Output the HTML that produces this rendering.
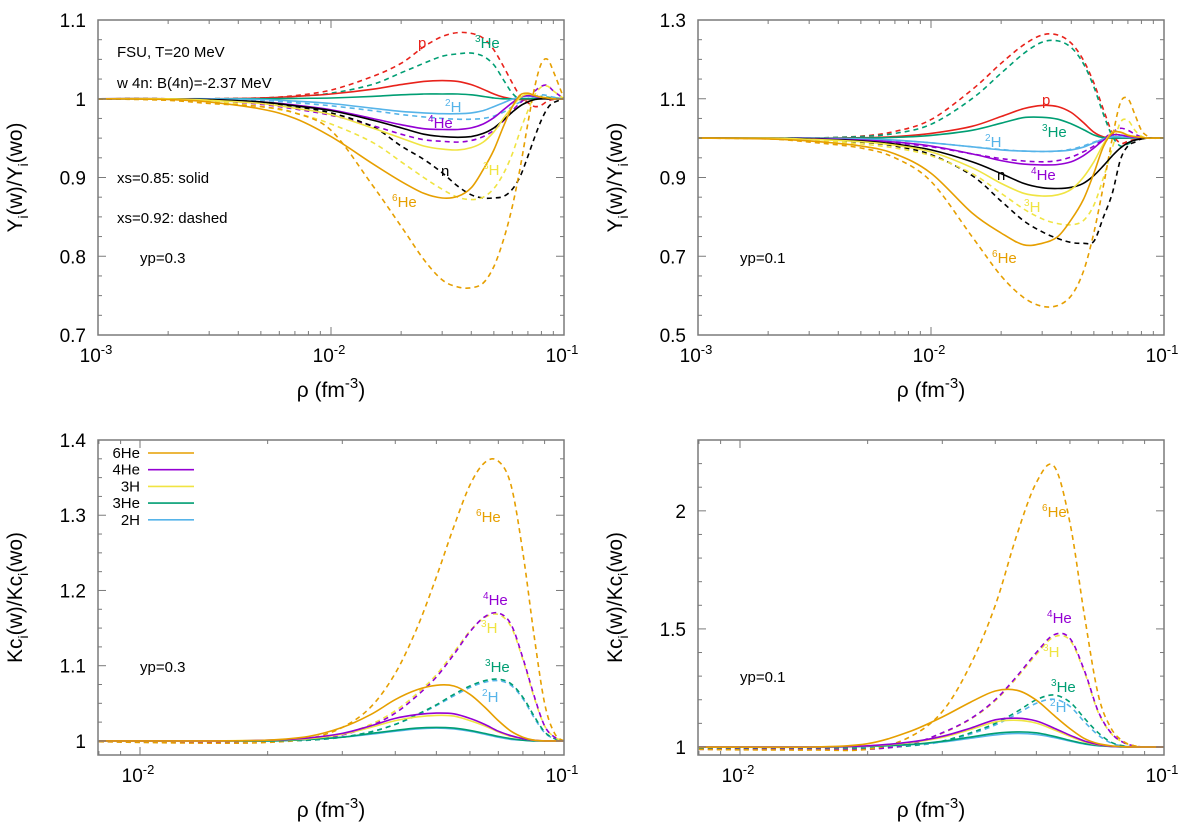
<!DOCTYPE html>
<html><head><meta charset="utf-8"><style>
body{margin:0;background:#fff;}
svg{display:block;font-family:"Liberation Sans",sans-serif;}
</style></head><body>
<svg id="fig" width="1200" height="833" viewBox="0 0 1200 833" xmlns="http://www.w3.org/2000/svg"></svg>
<script>
// ---------- DATA ----------
const rhoTop=[0.001,0.002,0.003,0.005,0.007,0.01,0.015,0.02,0.025,0.03,0.035,0.04,0.045,0.05,0.055,0.06,0.065,0.07,0.075,0.08,0.085,0.09,0.1];
// top-left (yp=0.3)
const tl_p_s  =[1,1,1,1.001,1.003,1.006,1.012,1.018,1.022,1.023,1.022,1.018,1.012,1.006,1.002,1.0,0.999,0.999,1,1,1,1,1];
const tl_p_d  =[1,1,1,1.001,1.004,1.011,1.028,1.045,1.066,1.079,1.084,1.083,1.077,1.062,1.041,1.02,1.003,0.995,0.99,0.992,0.997,0.999,1];
const tl_3He_s=[1,1,1,1,1.0005,1.001,1.003,1.005,1.006,1.006,1.006,1.005,1.003,1.001,1,1,1,1,1,1,1,1,1];
const tl_3He_d=[1,1,1,1.001,1.003,1.007,1.018,1.033,1.045,1.054,1.057,1.058,1.054,1.043,1.024,1.007,0.999,0.999,1.001,1.003,1.002,1.001,1];
const tl_2H_s =[1,1,1,0.999,0.997,0.994,0.988,0.984,0.982,0.981,0.981,0.982,0.985,0.99,0.995,0.9995,1.002,1.003,1.002,1.001,1,1,1];
const tl_2H_d =[1,1,0.999,0.998,0.995,0.991,0.985,0.98,0.977,0.975,0.974,0.974,0.975,0.978,0.983,0.99,0.996,1.0,1.003,1.005,1.004,1.002,1];
const tl_4He_s=[1,1,0.999,0.996,0.992,0.986,0.975,0.967,0.962,0.961,0.961,0.963,0.968,0.976,0.986,0.995,1.002,1.004,1.003,1.001,1,1,1];
const tl_4He_d=[1,1,0.998,0.993,0.987,0.979,0.966,0.955,0.948,0.946,0.945,0.947,0.952,0.96,0.972,0.985,0.995,1.003,1.01,1.016,1.017,1.01,1];
const tl_n_s  =[1,1,0.999,0.996,0.991,0.985,0.973,0.963,0.955,0.952,0.951,0.952,0.956,0.963,0.973,0.983,0.991,0.996,0.999,1,1,1,1];
const tl_n_d  =[1,1,0.999,0.995,0.99,0.982,0.965,0.94,0.923,0.906,0.889,0.878,0.874,0.874,0.876,0.885,0.902,0.927,0.952,0.973,0.988,0.995,1];
const tl_3H_s =[1,1,0.998,0.994,0.988,0.98,0.963,0.95,0.94,0.936,0.935,0.938,0.945,0.958,0.975,0.99,1.002,1.006,1.004,1.002,1.001,1,1];
const tl_3H_d =[1,1,0.997,0.99,0.982,0.968,0.945,0.92,0.9,0.885,0.875,0.872,0.875,0.886,0.905,0.93,0.96,0.985,1.005,1.015,1.016,1.01,1];
const tl_6He_s=[1,0.999,0.996,0.987,0.975,0.952,0.918,0.895,0.88,0.874,0.876,0.887,0.91,0.935,0.965,0.99,1.005,1.007,1.004,1.002,1.001,1,1];
const tl_6He_d=[1,0.998,0.994,0.99,0.982,0.96,0.891,0.838,0.796,0.77,0.761,0.76,0.766,0.787,0.821,0.863,0.914,0.969,1.016,1.045,1.05,1.035,1];
// top-right (yp=0.1)
const tr_p_s  =[1,1,1,1.001,1.004,1.012,1.03,1.055,1.075,1.083,1.08,1.065,1.04,1.015,1.003,1.0,1,1,1,1,1,1,1];
const tr_p_d  =[1,1,1,1.005,1.017,1.047,1.123,1.19,1.237,1.262,1.262,1.241,1.199,1.14,1.072,1.013,0.987,0.992,0.997,1,1,1,1];
const tr_3He_s=[1,1,1,1,1.002,1.007,1.02,1.038,1.052,1.053,1.048,1.036,1.022,1.008,1.001,1,1,1,1,1,1,1,1];
const tr_3He_d=[1,1,1,1.004,1.012,1.035,1.1,1.165,1.215,1.244,1.247,1.23,1.19,1.13,1.06,1.005,0.98,0.985,0.995,1,1,1,1];
const tr_2H_s =[1,1,1,0.998,0.995,0.988,0.978,0.97,0.967,0.966,0.967,0.97,0.977,0.988,0.998,1.003,1.003,1.002,1.001,1,1,1,1];
const tr_2H_d =[1,1,1,0.998,0.994,0.988,0.978,0.971,0.967,0.966,0.967,0.972,0.98,0.99,0.998,1.004,1.007,1.006,1.003,1.001,1,1,1];
const tr_4He_s=[1,1,0.999,0.995,0.99,0.98,0.96,0.943,0.934,0.932,0.933,0.94,0.955,0.975,0.995,1.008,1.008,1.004,1.002,1.001,1,1,1];
const tr_4He_d=[1,1,0.999,0.994,0.988,0.978,0.96,0.948,0.942,0.94,0.943,0.952,0.965,0.98,0.998,1.015,1.025,1.02,1.01,1.003,1,1,1];
const tr_n_s  =[1,1,0.998,0.993,0.985,0.97,0.94,0.91,0.885,0.874,0.872,0.875,0.885,0.905,0.93,0.955,0.975,0.988,0.995,0.998,1,1,1];
const tr_n_d  =[1,1,0.998,0.99,0.98,0.958,0.905,0.84,0.79,0.762,0.745,0.735,0.733,0.738,0.8,0.86,0.945,0.98,0.99,0.998,1,1,1];
const tr_3H_s =[1,1,0.997,0.991,0.982,0.965,0.925,0.885,0.86,0.853,0.856,0.87,0.9,0.94,0.985,1.015,1.015,1.008,1.004,1.002,1,1,1];
const tr_3H_d =[1,1,0.996,0.985,0.975,0.955,0.91,0.86,0.82,0.795,0.783,0.78,0.79,0.83,0.9,0.975,1.04,1.045,1.02,1.005,1,1,1];
const tr_6He_s=[1,0.998,0.993,0.98,0.96,0.911,0.81,0.759,0.729,0.733,0.75,0.793,0.843,0.911,0.979,1.013,1.015,1.007,1.004,1.002,1,1,1];
const tr_6He_d=[1,0.998,0.99,0.975,0.95,0.89,0.75,0.65,0.595,0.573,0.575,0.6,0.66,0.76,0.88,1.0,1.09,1.1,1.06,1.02,1.005,1,1];
// bottom panels
const rhoBot=[0.008,0.01,0.015,0.02,0.025,0.03,0.035,0.04,0.045,0.05,0.055,0.06,0.065,0.07,0.075,0.08,0.085,0.09,0.095,0.1];
const bl_6He_s=[1,1,1,1.001,1.006,1.018,1.035,1.055,1.068,1.074,1.073,1.062,1.045,1.027,1.013,1.005,1.001,1,1,1];
const bl_6He_d=[0.999,0.998,0.997,0.998,1.003,1.018,1.045,1.09,1.15,1.218,1.285,1.34,1.37,1.372,1.34,1.25,1.14,1.05,1.01,1];
const bl_4He_s=[1,1,1,1.001,1.004,1.01,1.02,1.03,1.035,1.037,1.036,1.03,1.022,1.013,1.007,1.003,1.001,1,1,1];
const bl_4He_d=[0.999,0.999,0.999,1,1.002,1.008,1.02,1.037,1.06,1.085,1.115,1.145,1.165,1.17,1.155,1.11,1.06,1.02,1.005,1];
const bl_3H_s =[1,1,1,1.001,1.003,1.009,1.018,1.027,1.032,1.034,1.033,1.027,1.02,1.012,1.006,1.003,1.001,1,1,1];
const bl_3H_d =[0.999,0.999,0.999,1,1.002,1.009,1.022,1.04,1.063,1.088,1.118,1.146,1.164,1.168,1.152,1.108,1.058,1.02,1.005,1];
const bl_3He_s=[1,1,1,1,1.002,1.005,1.01,1.014,1.017,1.018,1.017,1.014,1.01,1.006,1.003,1.001,1,1,1,1];
const bl_3He_d=[0.999,0.999,0.999,1,1.001,1.005,1.012,1.022,1.035,1.048,1.062,1.073,1.08,1.082,1.076,1.058,1.033,1.012,1.003,1];
const bl_2H_s =[1,1,1,1,1.002,1.005,1.009,1.013,1.016,1.017,1.016,1.013,1.009,1.005,1.002,1.001,1,1,1,1];
const bl_2H_d =[0.999,0.999,0.999,1,1.001,1.005,1.012,1.022,1.034,1.047,1.06,1.071,1.078,1.08,1.074,1.056,1.031,1.011,1.003,1];
const br_6He_s=[0.999,0.999,1,1.014,1.064,1.127,1.19,1.237,1.24,1.198,1.134,1.078,1.035,1.014,1.005,1.001,1,1,1,1];
const br_6He_d=[0.99,0.988,0.987,0.99,1.04,1.15,1.35,1.6,1.9,2.12,2.19,1.95,1.55,1.22,1.08,1.025,1.005,1,1,1];
const br_4He_s=[1,1,1,1.005,1.02,1.045,1.08,1.115,1.122,1.11,1.08,1.05,1.025,1.01,1.003,1.001,1,1,1,1];
const br_4He_d=[0.99,0.99,0.99,0.99,1.01,1.06,1.12,1.2,1.3,1.4,1.475,1.46,1.32,1.15,1.06,1.02,1.005,1,1,1];
const br_3H_s =[1,1,1,1.004,1.018,1.041,1.074,1.106,1.113,1.101,1.073,1.045,1.022,1.009,1.003,1.001,1,1,1,1];
const br_3H_d =[0.99,0.99,0.99,0.99,1.01,1.058,1.118,1.196,1.294,1.392,1.466,1.452,1.314,1.146,1.058,1.02,1.005,1,1,1];
const br_3He_s=[1,1,1,1.003,1.01,1.024,1.042,1.058,1.064,1.06,1.045,1.028,1.014,1.006,1.002,1,1,1,1,1];
const br_3He_d=[0.995,0.995,0.995,0.995,1.005,1.025,1.06,1.1,1.15,1.2,1.22,1.19,1.12,1.06,1.02,1.005,1,1,1,1];
const br_2H_s =[1,1,1,1.003,1.009,1.021,1.037,1.051,1.057,1.053,1.04,1.025,1.012,1.005,1.002,1,1,1,1,1];
const br_2H_d =[0.995,0.995,0.995,0.995,1.004,1.022,1.055,1.093,1.14,1.185,1.202,1.172,1.105,1.05,1.017,1.004,1,1,1,1];
const yTicksTL=[0.7,0.8,0.9,1,1.1];
const yTickLabelsTL=["0.7","0.8","0.9","1","1.1"];
const yTicksTR=[0.5,0.7,0.9,1.1,1.3];
const yTickLabelsTR=["0.5","0.7","0.9","1.1","1.3"];
const yTicksBL=[1,1.1,1.2,1.3,1.4];
const yTickLabelsBL=["1","1.1","1.2","1.3","1.4"];
const yTicksBR=[1,1.5,2];
const yTickLabelsBR=["1","1.5","2"];
const xTickExpTop=[-3,-2,-1];
const xTickExpBot=[-2,-1];

// ---------- DRAWING ----------
const NS="http://www.w3.org/2000/svg";
const svg=document.getElementById('fig');
const C={p:"#e8221b",n:"#000000","3He":"#009e73","2H":"#56b4e9","4He":"#9400d3","3H":"#f0e442","6He":"#e69f00"};
function mk(tag,attrs,parent){const e=document.createElementNS(NS,tag);for(const k in attrs)e.setAttribute(k,attrs[k]);(parent||svg).appendChild(e);return e;}

function panel(cfg){
  const g=mk('g',{});
  
  
  const L=cfg.x0,R=cfg.x1,T=cfg.y0,B=cfg.y1;
  const lx0=Math.log10(cfg.xmin),lx1=Math.log10(cfg.xmax);
  const sx=v=>L+(Math.log10(v)-lx0)/(lx1-lx0)*(R-L);
  const sy=v=>B-(v-cfg.ymin)/(cfg.ymax-cfg.ymin)*(B-T);
  // clip
  const cp=mk('clipPath',{id:'clip-'+cfg.name},g);mk('rect',{x:L,y:T,width:R-L,height:B-T},cp);
  // series
  const sg=mk('g',{'clip-path':'url(#clip-'+cfg.name+')'},g);
  cfg.series.forEach(s=>{
    const pts=cfg.rho.map((r,i)=>[sx(r),sy(s.v[i])]);
    let d='M'+pts[0][0].toFixed(1)+','+pts[0][1].toFixed(1);
    for(let i=0;i<pts.length-1;i++){
      const p0=pts[Math.max(0,i-1)],p1=pts[i],p2=pts[i+1],p3=pts[Math.min(pts.length-1,i+2)];
      const c1=[p1[0]+(p2[0]-p0[0])/6,p1[1]+(p2[1]-p0[1])/6],c2=[p2[0]-(p3[0]-p1[0])/6,p2[1]-(p3[1]-p1[1])/6];
      d+=' C'+c1[0].toFixed(1)+','+c1[1].toFixed(1)+' '+c2[0].toFixed(1)+','+c2[1].toFixed(1)+' '+p2[0].toFixed(1)+','+p2[1].toFixed(1);
    }
    const path=mk('path',{d:d,fill:'none',stroke:C[s.sp],'stroke-width':1.6},sg);
    if(s.dash)path.setAttribute('stroke-dasharray','5,4');
    
    
  });
  // frame
  const fr=mk('rect',{x:L,y:T,width:R-L,height:B-T,fill:'none',stroke:'#7a7a7a','stroke-width':1.5},g);
  
  
  // x ticks
  for(let e=Math.floor(lx0);e<=Math.ceil(lx1);e++){
    for(let m=1;m<10;m++){
      const v=m*Math.pow(10,e);if(v<cfg.xmin*0.999||v>cfg.xmax*1.001)continue;
      const x=sx(v),len=m===1?8:4;
      mk('line',{x1:x,y1:B,x2:x,y2:B-len,stroke:'#7a7a7a','stroke-width':1},g);
      mk('line',{x1:x,y1:T,x2:x,y2:T+len,stroke:'#7a7a7a','stroke-width':1},g);
    }
  }
  cfg.xExp.forEach(e=>{
    const t=mk('text',{x:sx(Math.pow(10,e))-2,y:B+27,'text-anchor':'middle','font-size':19},g);
    
    
    t.innerHTML='10<tspan dy="-8" font-size="13">'+e+'</tspan>';
  });
  // y ticks
  const minor=cfg.yminor;
  for(let v=Math.ceil(cfg.ymin/minor-1e-6)*minor;v<=cfg.ymax+1e-9;v+=minor){
    const y=sy(v);const major=cfg.yt.some(t=>Math.abs(t-v)<1e-6);const len=major?8:4;
    mk('line',{x1:L,y1:y,x2:L+len,y2:y,stroke:'#7a7a7a','stroke-width':1},g);
    mk('line',{x1:R,y1:y,x2:R-len,y2:y,stroke:'#7a7a7a','stroke-width':1},g);
  }
  cfg.yt.forEach((v,i)=>{
    const t=mk('text',{x:L-12,y:sy(v)+7,'text-anchor':'end','font-size':19},g);
    
    
    t.textContent=cfg.ytl[i];
  });
  // axis titles
  const xt=mk('text',{x:(L+R)/2,y:B+62,'text-anchor':'middle','font-size':21},g);
  
  
  xt.innerHTML='ρ (fm<tspan dy="-9" font-size="15">-3</tspan><tspan dy="9">)</tspan>';
  const yt=mk('text',{x:0,y:0,'text-anchor':'middle','font-size':21,transform:'translate('+(L-76)+','+((T+B)/2)+') rotate(-90)'},g);
  
  
  yt.innerHTML=cfg.ytitle;
  // labels
  cfg.labels.forEach(lb=>{
    const t=mk('text',{x:lb[1],y:lb[2],'font-size':15,fill:C[lb[0]]},g);
    
    
    const m=lb[0].match(/^(\d)(.*)$/);
    if(m)t.innerHTML='<tspan dy="-6" font-size="10">'+m[1]+'</tspan><tspan dy="6">'+m[2]+'</tspan>';else t.textContent=lb[0];
  });
  (cfg.notes||[]).forEach(nt=>{
    const t=mk('text',{x:nt[1],y:nt[2],'font-size':15},g);
    
    
    t.textContent=nt[0];
  });
  return {g,sx,sy};
}
const YT1='Y<tspan dy="6" font-size="14">i</tspan><tspan dy="-6">(w)/Y</tspan><tspan dy="6" font-size="14">i</tspan><tspan dy="-6">(wo)</tspan>';
const YT2='Kc<tspan dy="6" font-size="14">i</tspan><tspan dy="-6">(w)/Kc</tspan><tspan dy="6" font-size="14">i</tspan><tspan dy="-6">(wo)</tspan>';
function ser(prefix,list,src){const out=[];list.forEach(sp=>{out.push({sp,dash:true,v:src[prefix+sp+'_d']});});list.forEach(sp=>{out.push({sp,dash:false,v:src[prefix+sp+'_s']});});return out;}
const D={tl_p_s,tl_p_d,tl_3He_s,tl_3He_d,tl_2H_s,tl_2H_d,tl_4He_s,tl_4He_d,tl_n_s,tl_n_d,tl_3H_s,tl_3H_d,tl_6He_s,tl_6He_d,
tr_p_s,tr_p_d,tr_3He_s,tr_3He_d,tr_2H_s,tr_2H_d,tr_4He_s,tr_4He_d,tr_n_s,tr_n_d,tr_3H_s,tr_3H_d,tr_6He_s,tr_6He_d,
bl_6He_s,bl_6He_d,bl_4He_s,bl_4He_d,bl_3H_s,bl_3H_d,bl_3He_s,bl_3He_d,bl_2H_s,bl_2H_d,
br_6He_s,br_6He_d,br_4He_s,br_4He_d,br_3H_s,br_3H_d,br_3He_s,br_3He_d,br_2H_s,br_2H_d};
const topSp=['p','3He','2H','4He','n','3H','6He'];
const botSp=['2H','3He','3H','4He','6He'];

panel({name:'panel-top-left',x0:98,x1:564,y0:20,y1:335,xmin:0.001,xmax:0.1,ymin:0.7,ymax:1.1,yminor:0.025,yt:yTicksTL,ytl:yTickLabelsTL,xExp:xTickExpTop,rho:rhoTop,ytitle:YT1,
 series:ser('tl_',topSp,D),
 labels:[['p',418,48],['3He',475,48],['2H',445,112],['4He',428,128],['n',441,176],['3H',483,175],['6He',392,207]],
 notes:[['FSU, T=20 MeV',117,57],['w 4n: B(4n)=-2.37 MeV',117,88],['xs=0.85: solid',117,183],['xs=0.92: dashed',117,223],['yp=0.3',140,263]]});
panel({name:'panel-top-right',x0:698,x1:1164,y0:20,y1:335,xmin:0.001,xmax:0.1,ymin:0.5,ymax:1.3,yminor:0.05,yt:yTicksTR,ytl:yTickLabelsTR,xExp:xTickExpTop,rho:rhoTop,ytitle:YT1,
 series:ser('tr_',topSp,D),
 labels:[['p',1042,105],['3He',1042,137],['2H',985,147],['4He',1031,180],['n',997,180],['3H',1024,212],['6He',992,263]],
 notes:[['yp=0.1',740,263]]});
const bl=panel({name:'panel-bottom-left',x0:98,x1:564,y0:440,y1:755,xmin:0.00796,xmax:0.1,ymin:0.9813,ymax:1.4,yminor:0.025,yt:yTicksBL,ytl:yTickLabelsBL,xExp:xTickExpBot,rho:rhoBot,ytitle:YT2,
 series:ser('bl_',botSp,D),
 labels:[['6He',476,522],['4He',483,605],['3H',481,633],['3He',485,672],['2H',482,702]],
 notes:[['yp=0.3',140,672]]});
panel({name:'panel-bottom-right',x0:698,x1:1164,y0:440,y1:755,xmin:0.00796,xmax:0.1,ymin:0.966,ymax:2.3,yminor:0.1,yt:yTicksBR,ytl:yTickLabelsBR,xExp:xTickExpBot,rho:rhoBot,ytitle:YT2,
 series:ser('br_',botSp,D),
 labels:[['6He',1042,517],['4He',1047,623],['3H',1043,657],['3He',1051,692],['2H',1050,712]],
 notes:[['yp=0.1',740,682]]});
// legend (bottom-left)
const lg=mk('g',{});


const legendNames=['6He','4He','3H','3He','2H'];
legendNames.forEach((nm,i)=>{
  const y=453+i*16.7;
  const e=mk('g',{},lg);
  
  
  const t=mk('text',{x:140,y:y+5,'text-anchor':'end','font-size':15},e);t.textContent=nm;
  mk('line',{x1:148,y1:y,x2:194,y2:y,stroke:C[nm],'stroke-width':1.6},e);
});
</script>
</body></html>
